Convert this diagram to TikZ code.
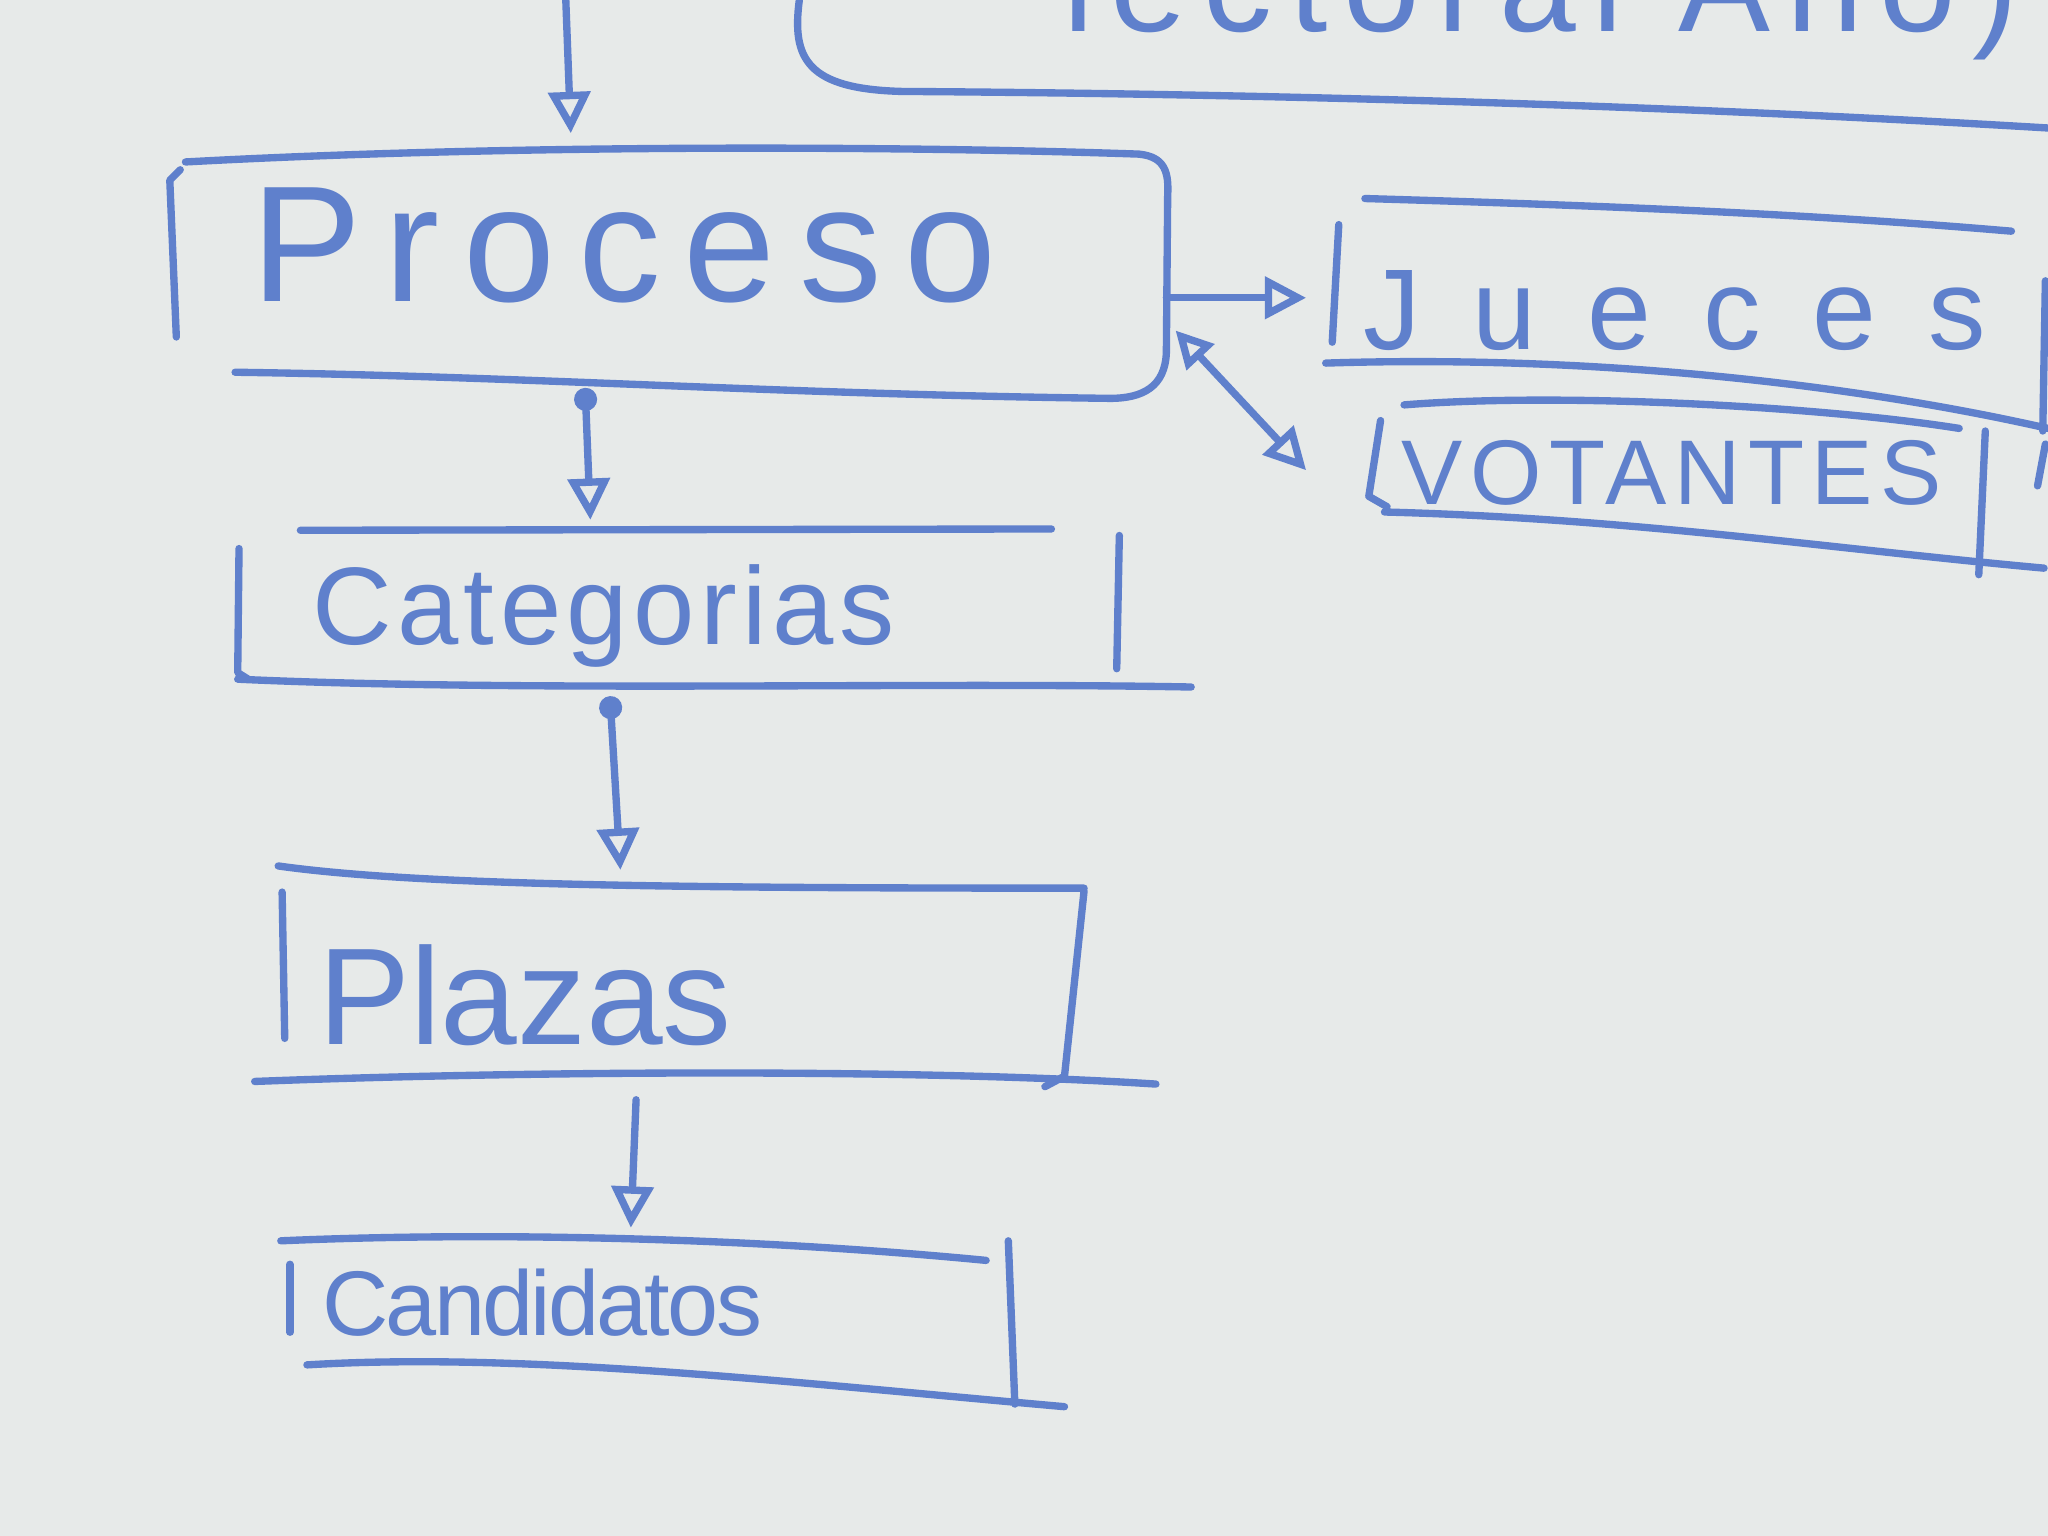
\documentclass[tikz,border=0pt]{standalone}
\usepackage{fontspec}
\setmainfont{Liberation Sans}
\usetikzlibrary{arrows.meta}
\definecolor{board}{HTML}{E7EAE9}
\definecolor{ink}{HTML}{5F80CC}
\begin{document}
\begin{tikzpicture}[x=0.01cm,y=-0.01cm,
  pen/.style={draw=ink, line width=1.6pt, line cap=round, line join=round},
  label/.style={text=ink, inner sep=0pt},
  flow/.style={pen, -{Triangle[open, length=9pt, width=9pt]}},
  flowdot/.style={pen, {Circle[length=5pt]}-{Triangle[open, length=9pt, width=9pt]}},
  both/.style={pen, {Triangle[open, length=8pt, width=8pt]}-{Triangle[open, length=9pt, width=9pt]}}]
\fill[board] (0,0) rectangle (1568,1176);
\useasboundingbox (0,0) rectangle (1568,1176);
\clip (0,0) rectangle (1568,1176);

% texts
\node[label, font=\fontsize{30}{30}\selectfont\addfontfeature{LetterSpace=12}, anchor=base] (titulo) at (1180,24) {lectoral Año)};
\node[label, font=\fontsize{36}{36}\selectfont\addfontfeature{LetterSpace=14}] (proceso) at (478,188) {Proceso};
\node[label, font=\fontsize{24}{24}\selectfont\addfontfeature{LetterSpace=5}] (categorias) at (462,472) {Categorias};
\node[label, font=\fontsize{30}{30}\selectfont] (plazas) at (402,762) {Plazas};
\node[label, font=\fontsize{20}{20}\selectfont\addfontfeature{LetterSpace=-3}] (candidatos) at (415,997) {Candidatos};
\node[label, font=\fontsize{25}{25}\selectfont\addfontfeature{LetterSpace=45}] (jueces) at (1282,238) {Jueces};
\node[label, font=\fontsize{20}{20}\selectfont\addfontfeature{LetterSpace=8}] (votantes) at (1280,362) {VOTANTES};

% top box (partly visible)
\draw[pen] (612,0) .. controls (606,45) and (618,68) .. (690,70) .. controls (1000,72) and (1300,82) .. (1568,98);

% Proceso box
\draw[pen] (142,124) .. controls (400,110) and (700,112) .. (872,118) .. controls (892,120) and (895,132) .. (894,150) -- (893,270) .. controls (892,296) and (875,305) .. (850,305) .. controls (600,302) and (400,288) .. (180,285);
\draw[pen] (138,130) -- (130,138) -- (135,258);

% Categorias box
\draw[pen] (230,406) -- (805,405);
\draw[pen] (183,420) -- (182,515) -- (190,520);
\draw[pen] (857,410) -- (855,512);
\draw[pen] (182,520) .. controls (400,530) and (700,522) .. (912,526);

% Plazas box
\draw[pen] (213,663) .. controls (320,678) and (520,680) .. (830,680);
\draw[pen] (216,683) -- (218,795);
\draw[pen] (830,682) -- (815,824) -- (800,832);
\draw[pen] (195,828) .. controls (400,820) and (700,818) .. (885,830);

% Candidatos box
\draw[pen] (215,950) .. controls (400,942) and (600,950) .. (755,965);
\draw[pen] (222,968) -- (222,1020);
\draw[pen] (772,950) -- (777,1075);
\draw[pen] (235,1045) .. controls (400,1035) and (600,1058) .. (815,1077);

% Jueces box
\draw[pen] (1045,152) .. controls (1250,158) and (1400,165) .. (1540,177);
\draw[pen] (1025,172) -- (1020,262);
\draw[pen] (1015,278) .. controls (1200,272) and (1400,290) .. (1568,328);
\draw[pen] (1566,215) -- (1564,330);

% Votantes box
\draw[pen] (1075,310) .. controls (1200,300) and (1400,312) .. (1500,328);
\draw[pen] (1057,322) -- (1048,380) -- (1062,388);
\draw[pen] (1520,330) -- (1515,440);
\draw[pen] (1060,392) .. controls (1250,397) and (1400,420) .. (1565,435);
\draw[pen] (1566,340) -- (1560,372);

% connectors
\coordinate (topin) at (433,-5);
\coordinate (procin) at (437,102);
\coordinate (procout) at (448,297);
\coordinate (catin) at (452,398);
\coordinate (catout) at (467,533);
\coordinate (plzin) at (475,666);
\coordinate (plzout) at (487,842);
\coordinate (candin) at (483,940);
\coordinate (procright) at (893,228);
\coordinate (juein) at (1000,228);
\coordinate (procright2) at (900,253);
\coordinate (votin) at (1000,360);

\draw[flow] (topin) -- (procin);
\draw[flowdot] (procout) -- (catin);
\draw[flowdot] (catout) -- (plzin);
\draw[flow] (plzout) -- (candin);
\draw[flow] (procright) -- (juein);
\draw[both] (procright2) -- (votin);
\end{tikzpicture}
\end{document}
